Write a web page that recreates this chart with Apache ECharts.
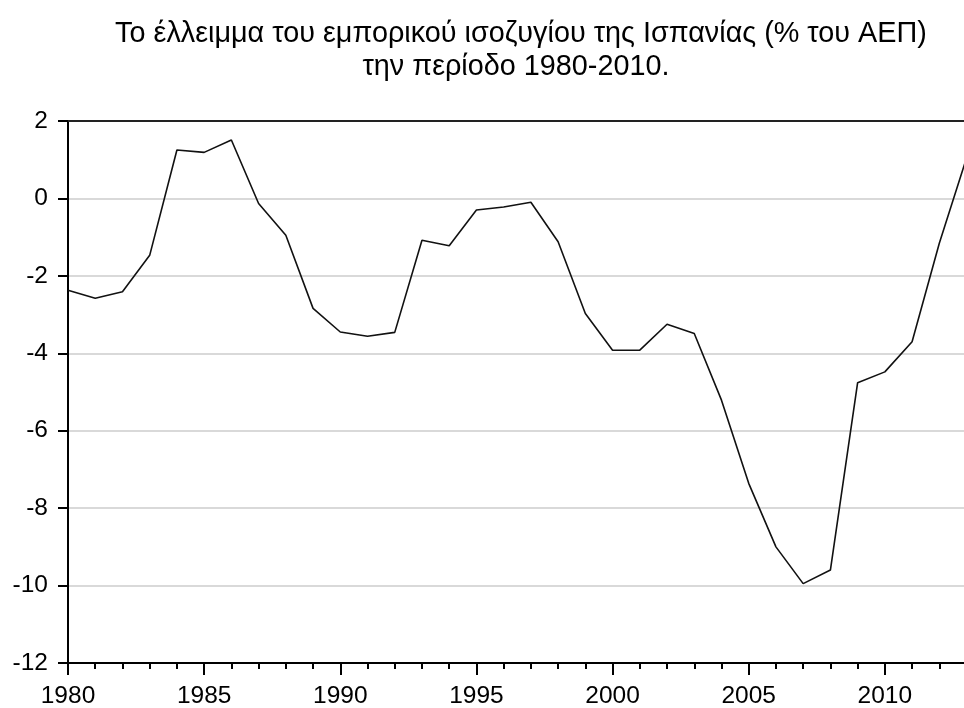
<!DOCTYPE html>
<html>
<head>
<meta charset="utf-8">
<script src="https://cdn.jsdelivr.net/npm/echarts@6/dist/echarts.min.js"></script>
<style>html,body{margin:0;padding:0;background:#fff;}#c{width:964px;height:708px;}</style>
</head>
<body>
<div id="c"></div>
<script>
var titleLines = ['Το έλλειμμα του εμπορικού ισοζυγίου της Ισπανίας (% του ΑΕΠ)', 'την περίοδο 1980-2010.'];
var years = [1980,1981,1982,1983,1984,1985,1986,1987,1988,1989,1990,1991,1992,1993,1994,1995,1996,1997,1998,1999,2000,2001,2002,2003,2004,2005,2006,2007,2008,2009,2010,2011,2012,2013];
var balance = [-2.37,-2.58,-2.41,-1.47,1.25,1.19,1.51,-0.13,-0.95,-2.84,-3.45,-3.56,-3.46,-1.08,-1.22,-0.30,-0.22,-0.10,-1.12,-2.97,-3.92,-3.92,-3.25,-3.49,-5.21,-7.36,-9.0,-9.95,-9.6,-4.76,-4.48,-3.70,-1.16,1.05];
var xLabelYears = [1980,1985,1990,1995,2000,2005,2010];

var chart = echarts.init(document.getElementById('c'), null, {renderer:'canvas'});
var font = '"Liberation Sans", Arial, sans-serif';
chart.setOption({
  animation: false,
  backgroundColor: '#fff',
  graphic: [
    {type:'text', x:521, y:34, style:{text:titleLines[0], font:'28.8px ' + font, fill:'#000', textAlign:'center', textVerticalAlign:'middle'}},
    {type:'text', x:516, y:67, style:{text:titleLines[1], font:'28.8px ' + font, fill:'#000', textAlign:'center', textVerticalAlign:'middle'}}
  ],
  grid: {left:68, top:121, width:953, height:542, show:false, outerBoundsMode:'none', containLabel:false},
  xAxis: [{
    type:'value', min:1980, max:2015, interval:5,
    axisLine:{show:true, onZero:false, lineStyle:{color:'#000', width:2}},
    axisTick:{show:true, inside:false, length:12, lineStyle:{color:'#000', width:2}},
    minorTick:{show:true, splitNumber:5, length:6, lineStyle:{color:'#000', width:2}},
    splitLine:{show:false},
    axisLabel:{margin:21, fontSize:24.5, fontFamily:font, color:'#000',
      formatter:function(v){ return xLabelYears.indexOf(v) >= 0 ? String(v) : ''; }}
  }, {
    type:'value', position:'top', min:1980, max:2015, interval:5,
    axisLine:{show:true, onZero:false, lineStyle:{color:'#222', width:2}},
    axisTick:{show:false}, axisLabel:{show:false}, splitLine:{show:false}
  }],
  yAxis: {
    type:'value', min:-12, max:2, interval:2,
    axisLine:{show:true, onZero:false, lineStyle:{color:'#000', width:2}},
    axisTick:{show:true, inside:false, length:10, lineStyle:{color:'#000', width:2}},
    splitLine:{show:true, lineStyle:{color:'#d9d9d9', width:2}},
    axisLabel:{margin:20, fontSize:24.5, fontFamily:font, color:'#000'}
  },
  series: [{
    type:'line',
    xAxisIndex:0,
    data: years.map(function(y,i){ return [y, balance[i]]; }),
    showSymbol:false, symbol:'none',
    lineStyle:{color:'#111', width:1.6},
    clip:false
  }]
});
</script>
</body>
</html>
